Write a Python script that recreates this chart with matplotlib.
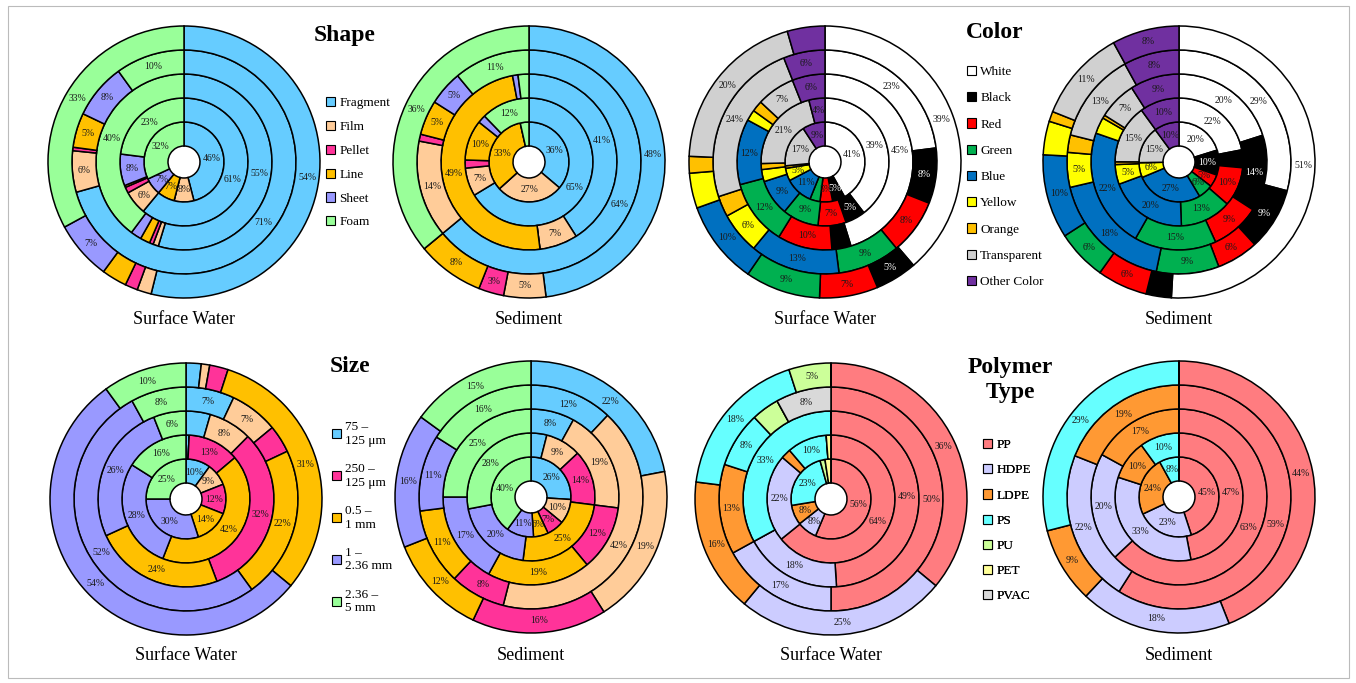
import numpy as np
import matplotlib.pyplot as plt
from matplotlib.patches import Patch, Rectangle

plt.rcParams['font.family'] = ['Liberation Serif', 'DejaVu Serif']

W, H = 1356, 683
HOLE, RW = 16, 24   # hole radius and ring width, in pixels

# rings listed from the centre outwards; whole numbers are the printed labels,
# fractional values are unlabelled slivers
shape_names = ['Fragment', 'Film', 'Pellet', 'Line', 'Sheet', 'Foam']
shape_colors = ['#66CCFF', '#FFCC99', '#FF3399', '#FFC000', '#9999FF', '#99FF99']
shape_water = [[46, 8, 0, 7, 7, 32],
               [61, 6, 1.5, 0.5, 8, 23],
               [55, 1.0, 0.7, 1.8, 2.0, 40],
               [71, 6, 0.5, 5, 8, 10],
               [54, 1.7, 1.5, 3.0, 7, 33]]
shape_sed = [[36, 27, 0, 33, 0, 3.5],
             [65, 7, 2.0, 10, 2.0, 12],
             [41, 7, 0, 49, 1.0, 2.0],
             [64, 14, 1.0, 5, 5, 11],
             [48, 5, 3, 8, 0, 36]]

color_names = ['White', 'Black', 'Red', 'Green', 'Blue', 'Yellow', 'Orange',
               'Transparent', 'Other Color']
color_colors = ['#FFFFFF', '#000000', '#FF0000', '#00B050', '#0070C0', '#FFFF00',
                '#FFC000', '#D0D0D0', '#7030A0']
color_water = [[41, 5, 5, 4.0, 11, 5, 1.0, 17, 9],
               [39, 5, 7, 9, 9, 3.0, 1.5, 21, 4],
               [45, 3.5, 10, 12, 12, 2.0, 2.0, 7, 6],
               [23, 8, 8, 9, 13, 6, 3.0, 24, 6],
               [39, 5, 7, 9, 10, 4.2, 2.0, 20, 4.5]]
color_sed = [[20, 10, 5, 6, 27, 6, 0, 15, 10],
             [22, 4.5, 10, 13, 20, 5, 0.7, 15, 10],
             [20, 14, 9, 15, 22, 3.0, 0.6, 7, 9],
             [29, 9, 6, 9, 18, 5, 2.5, 13, 8],
             [51, 3.0, 6, 6, 10, 4.0, 1.2, 11, 8]]

size_names = ['75 –\n125 μm', '250 –\n125 μm', '0.5 –\n1 mm', '1 –\n2.36 mm', '2.36 –\n5 mm']
size_legend_colors = ['#66CCFF', '#FF3399', '#FFC000', '#9999FF', '#99FF99']
size_colors = ['#66CCFF', '#FFCC99', '#FF3399', '#FFC000', '#9999FF', '#99FF99']
size_water = [[10, 9, 12, 14, 30, 25],
              [0.8, 0, 13, 42, 28, 16],
              [4.5, 8, 32, 24, 26, 6],
              [7, 7, 4.0, 22, 52, 8],
              [1.8, 1.0, 2.2, 31, 54, 10]]
size_sed = [[26, 10, 7, 6, 11, 40],
            [4.0, 9, 14, 25, 20, 28],
            [8, 19, 12, 19, 17, 25],
            [12, 42, 8, 11, 11, 16],
            [22, 19, 16, 12, 16, 15]]

poly_names = ['PP', 'HDPE', 'LDPE', 'PS', 'PU', 'PET', 'PVAC']
poly_colors = ['#FF7C80', '#CCCCFF', '#FF9933', '#66FFFF', '#CCFF99', '#FFFF99', '#D9D9D9']
poly_water = [[56, 8, 8, 23, 2.0, 2.4, 0],
              [64, 22, 2.5, 10, 0, 1.2, 0],
              [49, 18, 0, 33, 0, 0, 0],
              [50, 17, 13, 8, 4.0, 0, 8],
              [36, 25, 16, 18, 5, 0, 0]]
poly_sed = [[45, 23, 24, 8, 0, 0, 0],
            [47, 33, 10, 10, 0, 0, 0],
            [63, 20, 17, 0, 0, 0, 0],
            [59, 22, 19, 0, 0, 0, 0],
            [44, 18, 9, 29, 0, 0, 0]]

fig = plt.figure(figsize=(W/100, H/100), dpi=100)
ax = fig.add_axes([0, 0, 1, 1])


def donut(cx, cy, rings, colors, sub, sub_y):
    cy = H - cy
    for i, vals in enumerate(rings):
        r = HOLE + RW*(i+1)
        wedges, _ = ax.pie(vals, colors=colors, radius=r, center=(cx, cy),
                           startangle=90, counterclock=False,
                           wedgeprops=dict(width=RW, edgecolor='black', linewidth=1.1))
        for w, v, c in zip(wedges, vals, colors):
            if isinstance(v, int) and v > 0:
                a = np.deg2rad((w.theta1 + w.theta2)/2)
                rm = r - RW/2
                ax.text(cx + rm*np.cos(a), cy + rm*np.sin(a), f'{v}%',
                        ha='center', va='center', fontsize=7,
                        color='white' if c == '#000000' else '#1a1a1a')
    ax.text(cx, H - sub_y, sub, ha='center', va='center', fontsize=13)


def legend(names, colors, x, y, spacing):
    handles = [Patch(facecolor=c, edgecolor='black', linewidth=0.8) for c in colors]
    lg = ax.legend(handles, names, loc='upper left', bbox_to_anchor=(x/W, 1 - y/H),
                   frameon=False, fontsize=9.5, handlelength=0.7, handleheight=0.7,
                   handletextpad=0.3, labelspacing=spacing, borderpad=0,
                   borderaxespad=0)
    ax.add_artist(lg)


donut(184, 162, shape_water, shape_colors, 'Surface Water', 319)
donut(529, 162, shape_sed, shape_colors, 'Sediment', 319)
donut(825, 162, color_water, color_colors, 'Surface Water', 319)
donut(1179, 162, color_sed, color_colors, 'Sediment', 319)
donut(186, 499, size_water, size_colors, 'Surface Water', 656)
donut(531, 497, size_sed, size_colors, 'Sediment', 656)
donut(831, 499, poly_water, poly_colors, 'Surface Water', 656)
donut(1179, 497, poly_sed, poly_colors, 'Sediment', 656)

ax.set_xlim(0, W)
ax.set_ylim(0, H)
ax.axis('off')

legend(shape_names, shape_colors, 326, 97, 0.88)
legend(color_names, color_colors, 967, 66, 1.06)
legend(size_names, size_legend_colors, 332, 421, 1.22)
legend(poly_names, poly_colors, 983, 439, 0.98)

ax.text(345, H - 35, 'Shape', ha='center', va='center', fontsize=17, fontweight='bold')
ax.text(995, H - 33, 'Color', ha='center', va='center', fontsize=17, fontweight='bold')
ax.text(350, H - 366, 'Size', ha='center', va='center', fontsize=17, fontweight='bold')
ax.text(1010, H - 380, 'Polymer\nType', ha='center', va='center', fontsize=17,
        fontweight='bold', linespacing=1.3)

ax.add_patch(Rectangle((8, 5), 1341, 672, fill=False, edgecolor='#BBBBBB', linewidth=0.8))

fig.savefig('out.png', dpi=100)
